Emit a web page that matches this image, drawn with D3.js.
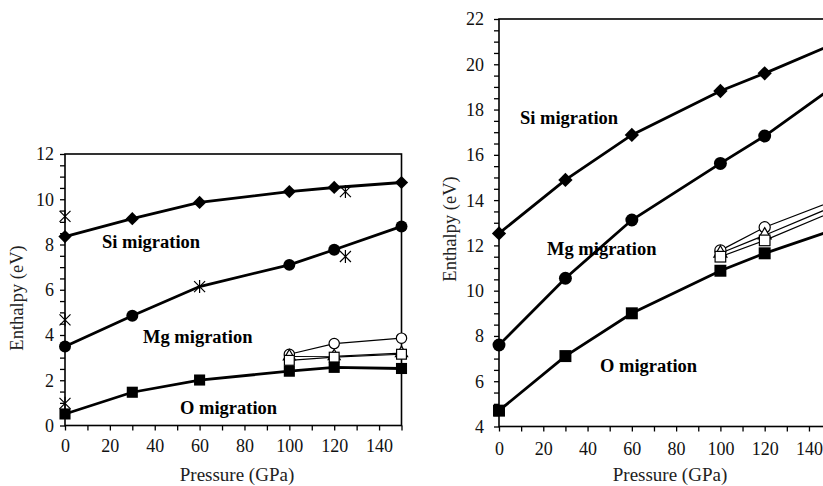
<!DOCTYPE html>
<html><head><meta charset="utf-8">
<script src="https://cdn.jsdelivr.net/npm/d3@7"></script>
<style>html,body{margin:0;padding:0;background:#fff;overflow:hidden}
svg text{font-family:'Liberation Serif','DejaVu Serif','Noto Serif',serif;}</style>
</head><body>
<svg id="chart" width="823" height="486"></svg>
<script>
// ---- data ----
const pressures = [0, 30, 60, 100, 120, 150];
const highP = [100, 120, 150];
const xTicks = [0, 20, 40, 60, 80, 100, 120, 140];

const leftSi = [8.35, 9.14, 9.86, 10.34, 10.52, 10.74];
const leftMg = [3.49, 4.85, 6.14, 7.1, 7.77, 8.8];
const leftMgCircleP = [0, 30, 100, 120, 150];
const leftO = [0.51, 1.47, 2.01, 2.4, 2.57, 2.52];
const leftOpenCircle = [3.15, 3.62, 3.86];
const leftOpenTriangle = [3.05, 3.06, 3.2];
const leftOpenSquare = [2.88, 3.02, 3.15];
const leftStarP = [0, 0, 0, 60, 125, 125];
const leftStarV = [9.24, 4.67, 0.98, 6.14, 10.34, 7.47];
const leftYTicks = [0, 2, 4, 6, 8, 10, 12];

const rightSi = [12.53, 14.89, 16.88, 18.82, 19.6, 20.85];
const rightMg = [7.6, 10.55, 13.12, 15.62, 16.83, 18.93];
const rightO = [4.7, 7.11, 9.0, 10.88, 11.65, 12.65];
const rightOpenCircle = [11.78, 12.8, 13.93];
const rightOpenTriangle = [11.65, 12.45, 13.68];
const rightOpenSquare = [11.5, 12.22, 13.45];
const rightYTicks = [4, 6, 8, 10, 12, 14, 16, 18, 20, 22];

const labels = ["Si migration", "Mg migration", "O migration"];

// ---- drawing ----
const svg = d3.select("#chart");

function panel(cfg) {
  const g = svg.append("g");
  const x = d3.scaleLinear().domain([0, 150]).range([cfg.x0, cfg.x1]);
  const y = d3.scaleLinear().domain(cfg.yDomain).range([cfg.yb, cfg.yt]);

  const xMinor = d3.range(0, 151, 10);
  const yMinor = d3.range(cfg.yDomain[0], cfg.yDomain[1] + 0.001, 0.5);
  const xAxis = d3.axisBottom(x).tickValues(xMinor).tickSize(5).tickFormat((d) => xTicks.includes(d) ? d : "");
  const yAxis = d3.axisLeft(y).tickValues(yMinor).tickSize(5).tickFormat((d) => cfg.yTicks.includes(d) ? d : "");

  const gx = g.append("g").attr("transform", `translate(0,${cfg.yb})`).call(xAxis);
  gx.attr("font-family", null);
  gx.select(".domain").remove();
  gx.selectAll(".tick line").attr("stroke", "#000").attr("stroke-width", 1.3);
  gx.selectAll(".tick text").attr("font-size", 18).attr("fill", "#111").attr("dy", null).attr("y", cfg.xLabelY);

  const gy = g.append("g").attr("transform", `translate(${cfg.x0},0)`).call(yAxis);
  gy.attr("font-family", null);
  gy.select(".domain").remove();
  gy.selectAll(".tick line").attr("stroke", "#000").attr("stroke-width", 1.3);
  gy.selectAll(".tick text").attr("font-size", 18).attr("fill", "#111").attr("x", -cfg.yLabelGap).attr("dy", "0.33em");

  g.append("rect").attr("x", cfg.x0).attr("y", cfg.yt).attr("width", cfg.x1 - cfg.x0).attr("height", cfg.yb - cfg.yt)
    .attr("fill", "none").attr("stroke", "#000").attr("stroke-width", 1.6);

  g.append("text").attr("x", cfg.xTitle[0]).attr("y", cfg.xTitle[1]).attr("text-anchor", "middle")
    .attr("font-size", 19).attr("fill", "#222").text("Pressure (GPa)");
  g.append("text").attr("transform", `translate(${cfg.yTitle[0]},${cfg.yTitle[1]}) rotate(-90)`).attr("text-anchor", "middle")
    .attr("font-size", 18.5).attr("fill", "#222").text("Enthalpy (eV)");

  const line = d3.line().x((d) => x(d[0])).y((d) => y(d[1]));
  const pts = (ps, vs) => ps.map((p, i) => [p, vs[i]]);

  [cfg.openCircle, cfg.openTriangle, cfg.openSquare].forEach((vals) => {
    g.append("path").attr("d", line(pts(highP, vals))).attr("fill", "none").attr("stroke", "#000").attr("stroke-width", 1.2);
  });
  [cfg.si, cfg.mg, cfg.o].forEach((vals) => {
    g.append("path").attr("d", line(pts(pressures, vals))).attr("fill", "none").attr("stroke", "#000").attr("stroke-width", 2.8);
  });

  const s = cfg.ms;
  g.selectAll(null).data(pts(highP, cfg.openCircle)).enter().append("circle")
    .attr("cx", (d) => x(d[0])).attr("cy", (d) => y(d[1])).attr("r", s * 0.82)
    .attr("fill", "#fff").attr("stroke", "#000").attr("stroke-width", 1.2);
  g.selectAll(null).data(pts(highP, cfg.openTriangle)).enter().append("path")
    .attr("d", d3.symbol(d3.symbolTriangle, s * s * 1.6)())
    .attr("transform", (d) => `translate(${x(d[0])},${y(d[1])})`)
    .attr("fill", "#fff").attr("stroke", "#000").attr("stroke-width", 1.2);
  g.selectAll(null).data(pts(highP, cfg.openSquare)).enter().append("rect")
    .attr("x", (d) => x(d[0]) - s * 0.78).attr("y", (d) => y(d[1]) - s * 0.78)
    .attr("width", s * 1.56).attr("height", s * 1.56)
    .attr("fill", "#fff").attr("stroke", "#000").attr("stroke-width", 1.2);
  g.selectAll(null).data(pts(pressures, cfg.o)).enter().append("rect")
    .attr("x", (d) => x(d[0]) - s * 0.88).attr("y", (d) => y(d[1]) - s * 0.88)
    .attr("width", s * 1.76).attr("height", s * 1.76).attr("fill", "#000");
  const mgPts = pts(pressures, cfg.mg).filter((d) => cfg.mgCircleP.includes(d[0]));
  g.selectAll(null).data(mgPts).enter().append("circle")
    .attr("cx", (d) => x(d[0])).attr("cy", (d) => y(d[1])).attr("r", s * 0.95).attr("fill", "#000");
  g.selectAll(null).data(pts(pressures, cfg.si)).enter().append("path")
    .attr("d", (d) => {
      const cx = x(d[0]), cy = y(d[1]), r = s * 1.05;
      return `M${cx},${cy - r}L${cx + r},${cy}L${cx},${cy + r}L${cx - r},${cy}Z`;
    }).attr("fill", "#000");
  if (cfg.starP) {
    g.selectAll(null).data(pts(cfg.starP, cfg.starV)).enter().append("path")
      .attr("d", (d) => {
        const cx = x(d[0]), cy = y(d[1]), a = 5.5;
        return `M${cx - a},${cy - a}L${cx + a},${cy + a}M${cx - a},${cy + a}L${cx + a},${cy - a}M${cx},${cy - a - 1}L${cx},${cy + a + 1}`;
      }).attr("fill", "none").attr("stroke", "#000").attr("stroke-width", 1.2);
  }

  cfg.ann.forEach((a, i) => {
    g.append("text").attr("x", a[0]).attr("y", a[1]).attr("font-weight", "bold")
      .attr("font-size", 18.5).attr("fill", "#000").text(labels[i]);
  });
}

panel({
  x0: 65, x1: 401.5, yb: 425.5, yt: 154, yDomain: [0, 12], yTicks: leftYTicks,
  si: leftSi, mg: leftMg, o: leftO, mgCircleP: leftMgCircleP,
  openCircle: leftOpenCircle, openTriangle: leftOpenTriangle, openSquare: leftOpenSquare,
  starP: leftStarP, starV: leftStarV, ms: 6.3,
  xLabelY: 26, yLabelGap: 11, xTitle: [237, 481], yTitle: [23, 298],
  ann: [[102, 248], [143, 343], [180, 414]]
});
panel({
  x0: 499, x1: 831.1, yb: 426.5, yt: 19, yDomain: [4, 22], yTicks: rightYTicks,
  si: rightSi, mg: rightMg, o: rightO, mgCircleP: pressures,
  openCircle: rightOpenCircle, openTriangle: rightOpenTriangle, openSquare: rightOpenSquare,
  starP: null, starV: null, ms: 6.8,
  xLabelY: 28, yLabelGap: 15, xTitle: [670, 481], yTitle: [456, 229],
  ann: [[520, 124], [547, 255], [600, 372]]
});
</script>
</body></html>
